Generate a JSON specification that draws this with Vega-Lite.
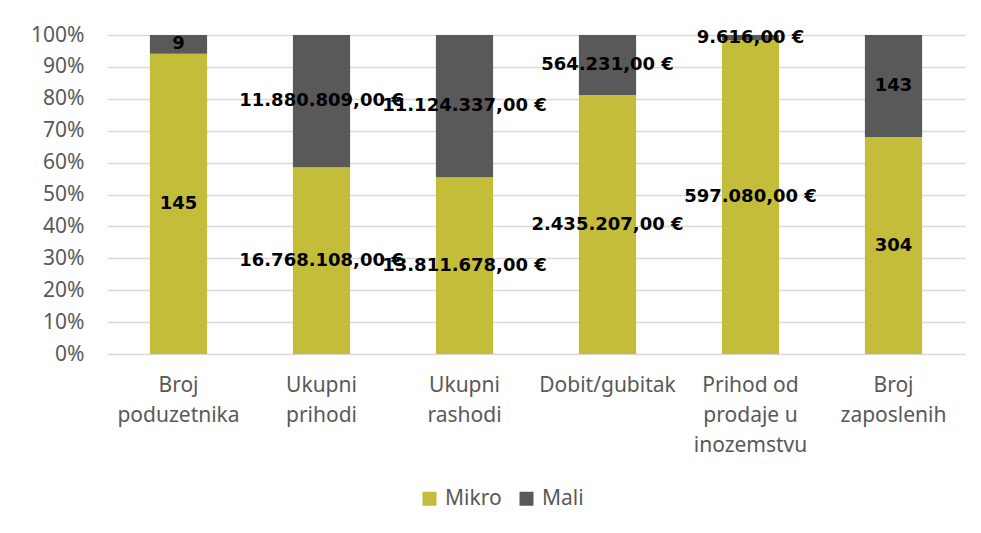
{
  "$schema": "https://vega.github.io/schema/vega-lite/v6.json",
  "width": 858,
  "height": 319,
  "autosize": {"type": "none"},
  "padding": {"left": 107, "top": 35, "right": 16, "bottom": 179},
  "background": "white",
  "config": {
    "view": {"stroke": null},
    "font": "Noto Sans",
    "axisY": {"labelOverlap": false},
    "locale": {
      "number": {"decimal": ",", "thousands": ".", "grouping": [3], "currency": ["", " €"]}
    }
  },
  "data": {
    "values": [
      {"kategorija": "Broj poduzetnika", "serija": "Mikro", "value": 145, "jedinica": ""},
      {"kategorija": "Broj poduzetnika", "serija": "Mali", "value": 9, "jedinica": ""},
      {"kategorija": "Ukupni prihodi", "serija": "Mikro", "value": 16768108, "jedinica": "€"},
      {"kategorija": "Ukupni prihodi", "serija": "Mali", "value": 11880809, "jedinica": "€"},
      {"kategorija": "Ukupni rashodi", "serija": "Mikro", "value": 13811678, "jedinica": "€"},
      {"kategorija": "Ukupni rashodi", "serija": "Mali", "value": 11124337, "jedinica": "€"},
      {"kategorija": "Dobit/gubitak", "serija": "Mikro", "value": 2435207, "jedinica": "€"},
      {"kategorija": "Dobit/gubitak", "serija": "Mali", "value": 564231, "jedinica": "€"},
      {"kategorija": "Prihod od prodaje u inozemstvu", "serija": "Mikro", "value": 597080, "jedinica": "€"},
      {"kategorija": "Prihod od prodaje u inozemstvu", "serija": "Mali", "value": 9616, "jedinica": "€"},
      {"kategorija": "Broj zaposlenih", "serija": "Mikro", "value": 304, "jedinica": ""},
      {"kategorija": "Broj zaposlenih", "serija": "Mali", "value": 143, "jedinica": ""}
    ]
  },
  "transform": [
    {"calculate": "datum.serija === 'Mikro' ? 0 : 1", "as": "ord"},
    {"joinaggregate": [{"op": "sum", "field": "value", "as": "total"}], "groupby": ["kategorija"]},
    {"window": [{"op": "sum", "field": "value", "as": "cum"}], "groupby": ["kategorija"], "sort": [{"field": "ord"}], "frame": [null, 0]},
    {"calculate": "(datum.cum - datum.value / 2) / datum.total", "as": "mid"},
    {"calculate": "datum.jedinica === '€' ? format(datum.value, ',.2f') + ' €' : format(datum.value, 'd')", "as": "oznaka"}
  ],
  "layer": [
    {
      "mark": {"type": "bar"},
      "encoding": {
        "x": {
          "field": "kategorija", "type": "nominal", "sort": null,
          "scale": {"paddingInner": 0.6, "paddingOuter": 0.3},
          "axis": {
            "title": null, "labelAngle": 0, "domain": false, "ticks": false,
            "labelPadding": 20, "labelFontSize": 21, "labelColor": "#595959",
            "labelLineHeight": 30,
            "labelExpr": "datum.value == 'Prihod od prodaje u inozemstvu' ? ['Prihod od', 'prodaje u', 'inozemstvu'] : split(datum.value, ' ')"
          }
        },
        "y": {
          "field": "value", "type": "quantitative", "stack": "normalize",
          "axis": {
            "title": null, "format": ".0%", "values": [0, 0.1, 0.2, 0.3, 0.4, 0.5, 0.6, 0.7, 0.8, 0.9, 1],
            "labelOverlap": false,
            "domain": false, "ticks": false, "labelPadding": 23, "labelFontSize": 21, "labelColor": "#595959",
            "gridColor": "#D9D9D9", "gridWidth": 1.5
          }
        },
        "color": {
          "field": "serija", "type": "nominal",
          "scale": {"domain": ["Mikro", "Mali"], "range": ["#C4BD3A", "#595959"]},
          "legend": {
            "title": null, "orient": "none", "legendX": 312, "legendY": 453, "direction": "horizontal", "symbolType": "square",
            "symbolSize": 196, "symbolStrokeWidth": 0, "labelFontSize": 21, "labelColor": "#595959",
            "columnPadding": 14, "labelOffset": 5
          }
        },
        "order": {"field": "ord", "type": "quantitative"}
      }
    },
    {
      "mark": {"type": "text", "font": "DejaVu Sans", "fontWeight": "bold", "fontSize": 18, "color": "black", "baseline": "middle"},
      "encoding": {
        "x": {"field": "kategorija", "type": "nominal", "sort": null},
        "y": {
          "field": "mid", "type": "quantitative",
          "axis": {
            "title": null, "format": ".0%", "values": [0, 0.1, 0.2, 0.3, 0.4, 0.5, 0.6, 0.7, 0.8, 0.9, 1],
            "labelOverlap": false,
            "domain": false, "ticks": false, "labelPadding": 23, "labelFontSize": 21, "labelColor": "#595959",
            "gridColor": "#D9D9D9", "gridWidth": 1.5
          }
        },
        "text": {"field": "oznaka"}
      }
    }
  ]
}
